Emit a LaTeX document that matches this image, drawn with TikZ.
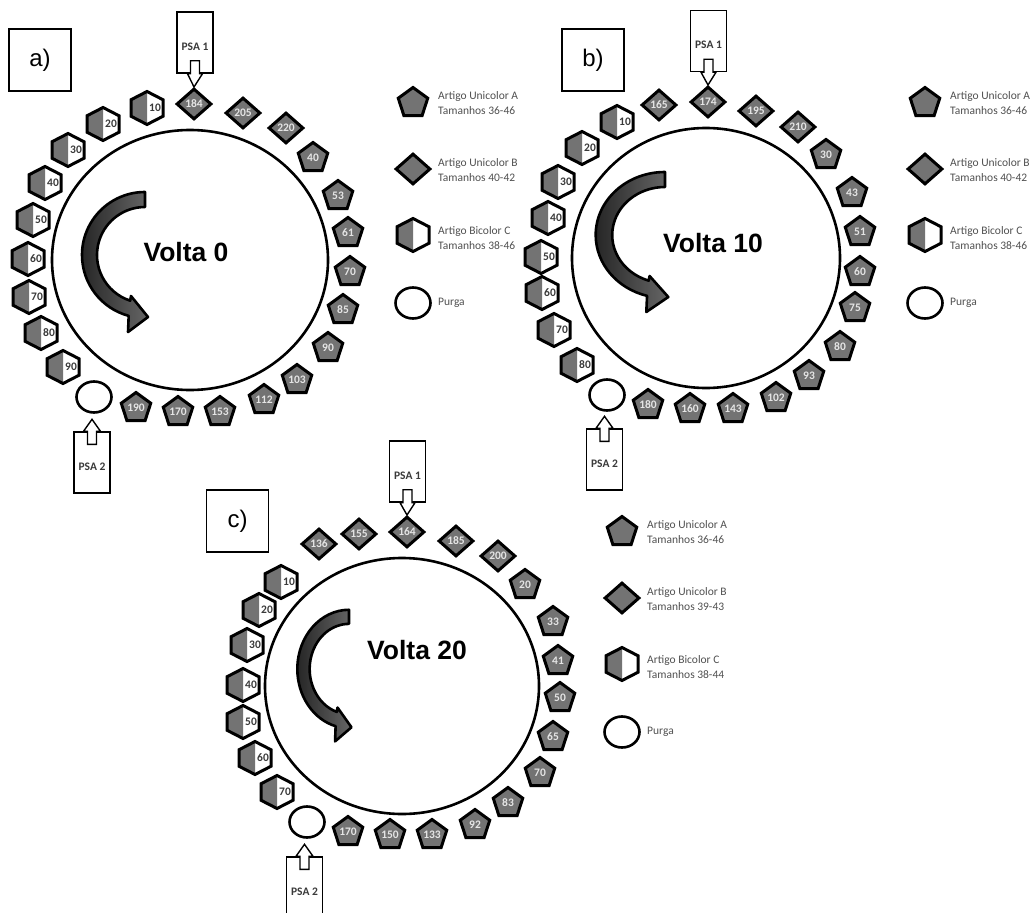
\documentclass[tikz,border=0pt]{standalone}
\usepackage{fontspec}
\setmainfont{Carlito}
\newfontfamily\arialfont{Liberation Sans}
\usetikzlibrary{shapes.geometric,calc}

\definecolor{artfill}{RGB}{115,115,115}
\definecolor{numgray}{RGB}{58,58,58}
\definecolor{legtext}{RGB}{80,80,80}

\tikzset{
  numtext/.style={font=\bfseries\fontsize{11.5}{11.5}\selectfont},
  ring/.style={ellipse, draw, line width=2.6pt, inner sep=0pt},
  pent/.style={regular polygon, regular polygon sides=5, minimum size=31pt, inner sep=0pt,
    draw, line width=3pt, fill=artfill, text=white!90!black, numtext},
  romb/.style={diamond, minimum width=35pt, minimum height=31pt, inner sep=0pt,
    draw, line width=3pt, fill=artfill, text=white!90!black, numtext},
  purga/.style={ellipse, minimum width=35pt, minimum height=31pt, inner sep=0pt,
    draw, line width=2.6pt, fill=white},
  psabox/.style={draw, line width=1.4pt, fill=white, minimum width=36pt, minimum height=61pt, inner sep=0pt},
  psatext/.style={numtext, text=numgray, inner sep=0pt},
  psaarrow/.style={draw, line width=1.4pt, fill=white, line join=miter},
  tagbox/.style={draw, line width=1.1pt, minimum size=62pt, inner sep=0pt,
    font=\arialfont\fontsize{24}{24}\selectfont},
  volta/.style={font=\arialfont\bfseries\fontsize{26.5}{26.5}\selectfont},
  legend/.style={anchor=west, align=left, inner sep=0pt, text=legtext,
    font=\fontsize{11.5}{14.5}\selectfont},
  arrowbody/.style={draw, line width=2.6pt, line join=round, left color=black!85, right color=black!60},
  pics/bicolor/.style={code={
    \fill[artfill] (0,-16.5) -- (-16,-8.25) -- (-16,8.25) -- (0,16.5) -- cycle;
    \draw[line width=3pt] (0,-16.5) -- (16,-8.25) -- (16,8.25) -- (0,16.5) -- (-16,8.25) -- (-16,-8.25) -- cycle;
    \node[numtext, text=numgray, inner sep=0pt] (-num) at (8,0) {#1};
  }},
  pics/turnarrow/.style={code={
    \draw[arrowbody] (270:63) arc[start angle=270, end angle=105, radius=63]
      -- (-17,77) -- (3,62) -- (-14,41) -- (108:48)
      arc[start angle=108, end angle=270, radius=48] -- cycle;
  }},
}

\begin{document}
\begin{tikzpicture}[x=1pt, y=-1pt]
    \useasboundingbox (0,0) rectangle (1034,913);

    % Volta 0
    \begin{scope}
        \node[tagbox] (tag-a) at (40,60) {a)};
        \node[ring, minimum width=276pt, minimum height=260pt] (ring-a) at (190,260) {};
        \pic at (145,255) {turnarrow};
        \node[volta] (volta-a) at (186,252) {Volta 0};

        \foreach \x/\y/\n in {194/104/184, 243/113/205, 286/128/220}
            \node[romb] (a-romb\n) at (\x,\y) {\n};
        \foreach \x/\y/\n in {313/158/40, 338/196/53, 348/233/61, 350/272/70, 343/310/85, 328/348/90,
                              297/380/103, 264/400/112, 220/412/153, 178/412/170, 136/408/190}
            \node[pent] (a-pent\n) at (\x,\y) {\n};
        \foreach \x/\y/\n in {147/108/10, 103/124/20, 68/150/30, 45/183/40, 33/220/50,
                              28/259/60, 29/297/70, 41/333/80, 63/367/90}
            \pic (a-hex\n) at (\x,\y) {bicolor=\n};
        \node[purga] (a-purga) at (94,397) {};

        \node[psabox] (a-psa1) at (195,42.5) {};
        \node[psatext] (a-psa1t) at ($(a-psa1.center)+(0,4)$) {PSA 1};
        \draw[psaarrow] ($(a-psa1.south)+(-4.5,-13)$) -- ++(9,0) -- ++(0,13) -- ++(3,0)
            -- (a-romb184.north) -- ($(a-psa1.south)+(-7.5,0)$) -- ++(3,0) -- cycle;
        \node[psabox] (a-psa2) at (92,462.5) {};
        \node[psatext] (a-psa2t) at ($(a-psa2.center)+(0,4)$) {PSA 2};
        \draw[psaarrow] ($(a-psa2.north)+(-4.5,13)$) -- ++(9,0) -- ++(0,-13) -- ++(4,0)
            -- ++(-8.5,-12) -- ++(-8.5,12) -- ++(4,0) -- cycle;
    \end{scope}

    % Volta 10
    \begin{scope}
        \node[tagbox] (tag-b) at (593,60) {b)};
        \node[ring, minimum width=268pt, minimum height=260pt] (ring-b) at (706,258) {};
        \pic[xscale=1.1] at (665,235) {turnarrow};
        \node[volta] (volta-b) at (713,243) {Volta 10};

        \foreach \x/\y/\n in {659/105/165, 708/102/174, 756/111/195, 798/127/210}
            \node[romb] (b-romb\n) at (\x,\y) {\n};
        \foreach \x/\y/\n in {826/155/30, 852/193/43, 860/232/51, 860/272/60, 855/308/75, 840/347/80,
                              809/376/93, 776/398/102, 733/409/143, 690/409/160, 648/405/180}
            \node[pent] (b-pent\n) at (\x,\y) {\n};
        \foreach \x/\y/\n in {617/122/10, 582/148/20, 558/182/30, 548/218/40,
                              541/257/50, 542/293/60, 554/330/70, 577/365/80}
            \pic (b-hex\n) at (\x,\y) {bicolor=\n};
        \node[purga] (b-purga) at (607,395) {};

        \node[psabox] (b-psa1) at (708.5,41) {};
        \node[psatext] (b-psa1t) at ($(b-psa1.center)+(0,4)$) {PSA 1};
        \draw[psaarrow] ($(b-psa1.south)+(-4.5,-13)$) -- ++(9,0) -- ++(0,13) -- ++(3,0)
            -- (b-romb174.north) -- ($(b-psa1.south)+(-7.5,0)$) -- ++(3,0) -- cycle;
        \node[psabox] (b-psa2) at (604.5,459.5) {};
        \node[psatext] (b-psa2t) at ($(b-psa2.center)+(0,4)$) {PSA 2};
        \draw[psaarrow] ($(b-psa2.north)+(-4.5,13)$) -- ++(9,0) -- ++(0,-13) -- ++(4,0)
            -- ++(-8.5,-12) -- ++(-8.5,12) -- ++(4,0) -- cycle;
    \end{scope}

    % Volta 20
    \begin{scope}
        \node[tagbox] (tag-c) at (237.5,521) {c)};
        \node[ring, minimum width=274pt, minimum height=256pt] (ring-c) at (402,686) {};
        \pic[xscale=.82, yscale=.94] at (349,669) {turnarrow};
        \node[volta] (volta-c) at (417,650) {Volta 20};

        \foreach \x/\y/\n in {319/544/136, 359/534/155, 407/532/164, 456/541/185, 498/556/200}
            \node[romb] (c-romb\n) at (\x,\y) {\n};
        \foreach \x/\y/\n in {525/585/20, 553/622/33, 558/661/41, 560/698/50, 553/737/65, 540/773/70,
                              508/803/83, 475/825/92, 432/835/133, 390/835/150, 348/832/170}
            \node[pent] (c-pent\n) at (\x,\y) {\n};
        \foreach \x/\y/\n in {281/582/10, 259/610/20, 247/645/30, 243/685/40,
                              243/722/50, 255/758/60, 277/792/70}
            \pic (c-hex\n) at (\x,\y) {bicolor=\n};
        \node[purga] (c-purga) at (307,822) {};

        \node[psabox] (c-psa1) at (407.5,471.5) {};
        \node[psatext] (c-psa1t) at ($(c-psa1.center)+(0,4)$) {PSA 1};
        \draw[psaarrow] ($(c-psa1.south)+(-4.5,-13)$) -- ++(9,0) -- ++(0,13) -- ++(3,0)
            -- (c-romb164.north) -- ($(c-psa1.south)+(-7.5,0)$) -- ++(3,0) -- cycle;
        \node[psabox] (c-psa2) at (304.5,887.5) {};
        \node[psatext] (c-psa2t) at ($(c-psa2.center)+(0,4)$) {PSA 2};
        \draw[psaarrow] ($(c-psa2.north)+(-4.5,13)$) -- ++(9,0) -- ++(0,-13) -- ++(4,0)
            -- ++(-8.5,-12) -- ++(-8.5,12) -- ++(4,0) -- cycle;
    \end{scope}

    % legends
    \foreach \lx/\ly/\p/\bs/\cs in {413/103/a/40-42/38-46, 925/103/b/40-42/38-46, 622/532/c/39-43/38-44} {
        \node[pent] (\p-lgA) at (\lx,\ly) {};
        \node[legend] (\p-lgAt) at (\lx+25,\ly) {Artigo Unicolor A\\Tamanhos 36-46};
        \node[romb] (\p-lgB) at (\lx,\ly+66) {};
        \node[legend] (\p-lgBt) at (\lx+25,\ly+67) {Artigo Unicolor B\\Tamanhos \bs};
        \pic (\p-lgC) at (\lx,\ly+132) {bicolor={}};
        \node[legend] (\p-lgCt) at (\lx+25,\ly+135) {Artigo Bicolor C\\Tamanhos \cs};
        \node[purga] (\p-lgP) at (\lx,\ly+200) {};
        \node[legend] (\p-lgPt) at (\lx+25,\ly+200) {Purga};
    }
\end{tikzpicture}
\end{document}
